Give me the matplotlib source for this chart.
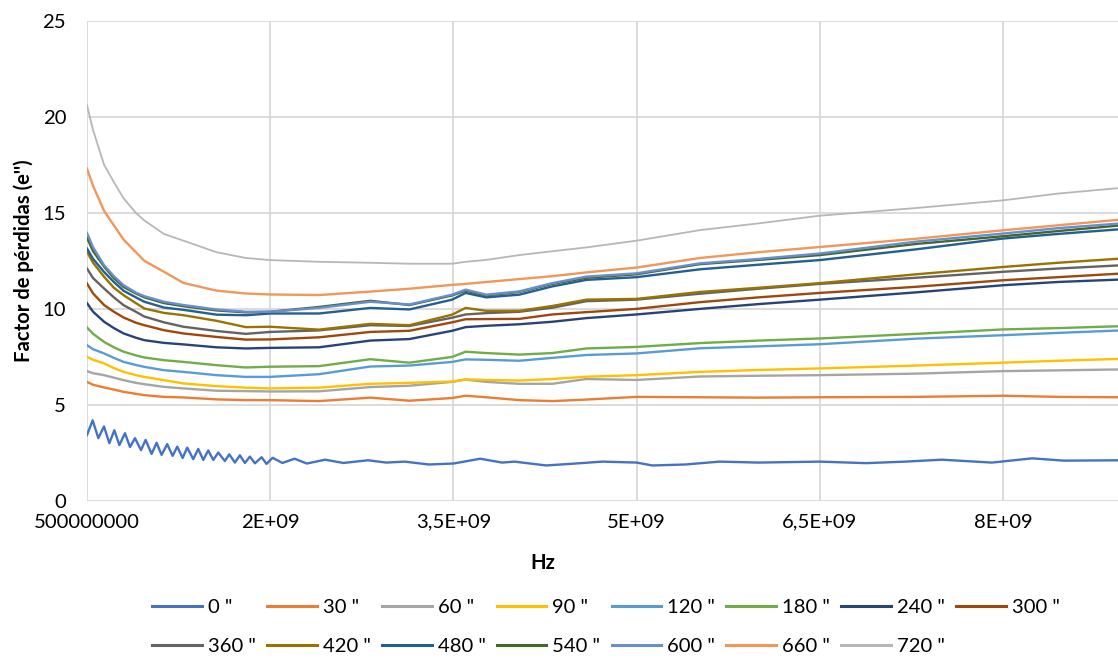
import matplotlib
matplotlib.use("Agg")
import matplotlib.pyplot as plt
from matplotlib.ticker import FixedLocator, FixedFormatter

plt.rcParams['font.family'] = ['Lato', 'DejaVu Sans']

# ---------------- data ----------------
freq_ghz = [0.5, 0.55, 0.64, 0.72, 0.8, 0.9, 0.97, 1.13, 1.29, 1.56, 1.8, 2.0, 2.4,
            2.82, 3.14, 3.49, 3.6, 3.77, 4.04, 4.31, 4.59, 5.0, 5.52, 6.0, 6.5,
            7.29, 8.0, 8.45, 8.97]

freq0_ghz = [0.5, 0.546, 0.593, 0.639, 0.683, 0.724, 0.765, 0.811, 0.852, 0.893,
             0.942, 0.98, 1.029, 1.07, 1.111, 1.157, 1.201, 1.239, 1.283, 1.321,
             1.37, 1.411, 1.452, 1.493, 1.534, 1.575, 1.629, 1.665, 1.711, 1.752,
             1.793, 1.834, 1.875, 1.93, 1.97, 2.02, 2.1, 2.2, 2.3, 2.45, 2.6, 2.8,
             2.95, 3.1, 3.3, 3.5, 3.72, 3.9, 4.0, 4.26, 4.5, 4.72, 5.0, 5.13, 5.4,
             5.68, 6.0, 6.5, 6.88, 7.2, 7.5, 7.91, 8.24, 8.5, 8.97]

s0 = [3.43, 4.2, 3.27, 3.88, 3.01, 3.68, 2.91, 3.53, 2.81, 3.27, 2.65, 3.18, 2.45,
      3.03, 2.4, 2.96, 2.35, 2.83, 2.24, 2.78, 2.18, 2.71, 2.14, 2.63, 2.14, 2.52,
      2.08, 2.43, 2.0, 2.38, 1.98, 2.31, 1.96, 2.28, 1.93, 2.25, 1.98, 2.2, 1.95,
      2.15, 1.98, 2.12, 2.0, 2.05, 1.9, 1.95, 2.2, 2.0, 2.05, 1.85, 1.95, 2.05,
      2.0, 1.85, 1.9, 2.05, 2.0, 2.05, 1.97, 2.05, 2.15, 2.0, 2.22, 2.1, 2.12]

s30 = [6.2, 6.05, 5.91, 5.8, 5.68, 5.58, 5.51, 5.42, 5.39, 5.29, 5.25, 5.25, 5.2,
       5.38, 5.22, 5.36, 5.48, 5.4, 5.25, 5.2, 5.28, 5.42, 5.4, 5.38, 5.4, 5.42,
       5.48, 5.42, 5.4]
s60 = [6.76, 6.65, 6.55, 6.42, 6.29, 6.15, 6.08, 5.94, 5.86, 5.74, 5.72, 5.7, 5.71,
       5.93, 6.0, 6.2, 6.32, 6.2, 6.1, 6.1, 6.35, 6.3, 6.48, 6.52, 6.55, 6.63,
       6.76, 6.8, 6.85]
s90 = [7.5, 7.35, 7.16, 6.92, 6.72, 6.55, 6.46, 6.29, 6.12, 5.98, 5.9, 5.86, 5.9,
       6.1, 6.15, 6.22, 6.33, 6.3, 6.27, 6.35, 6.47, 6.55, 6.72, 6.82, 6.9, 7.05,
       7.2, 7.3, 7.4]
s120 = [8.11, 7.9, 7.68, 7.45, 7.24, 7.08, 6.98, 6.81, 6.72, 6.55, 6.46, 6.46, 6.6,
        7.0, 7.05, 7.24, 7.37, 7.35, 7.3, 7.45, 7.6, 7.68, 7.95, 8.05, 8.16, 8.45,
        8.63, 8.75, 8.88]
s180 = [9.03, 8.7, 8.28, 8.0, 7.77, 7.58, 7.47, 7.33, 7.24, 7.07, 6.95, 6.99, 7.02,
        7.38, 7.2, 7.5, 7.77, 7.7, 7.62, 7.7, 7.94, 8.02, 8.22, 8.35, 8.46, 8.7,
        8.93, 9.0, 9.1]
s240 = [10.3, 9.85, 9.33, 9.0, 8.72, 8.5, 8.37, 8.23, 8.15, 8.0, 7.94, 7.97, 8.0,
        8.35, 8.43, 8.86, 9.05, 9.12, 9.2, 9.33, 9.52, 9.71, 10.0, 10.25, 10.48,
        10.86, 11.23, 11.4, 11.53]
s300 = [11.32, 10.8, 10.2, 9.85, 9.55, 9.28, 9.15, 8.89, 8.72, 8.54, 8.4, 8.41, 8.52,
        8.8, 8.86, 9.3, 9.46, 9.47, 9.48, 9.71, 9.83, 10.0, 10.35, 10.6, 10.83,
        11.15, 11.49, 11.65, 11.84]
s360 = [12.1, 11.6, 11.06, 10.6, 10.19, 9.85, 9.6, 9.3, 9.07, 8.85, 8.7, 8.8, 8.88,
        9.15, 9.11, 9.54, 9.71, 9.78, 9.85, 10.06, 10.4, 10.48, 10.79, 11.05, 11.3,
        11.62, 11.93, 12.1, 12.27]
s420 = [12.97, 12.4, 11.67, 11.1, 10.71, 10.3, 10.02, 9.79, 9.67, 9.38, 9.05, 9.07,
        8.92, 9.22, 9.15, 9.7, 10.05, 9.9, 9.9, 10.15, 10.48, 10.52, 10.88, 11.1,
        11.34, 11.8, 12.18, 12.4, 12.62]
s480 = [13.14, 12.6, 11.92, 11.4, 10.94, 10.6, 10.37, 10.07, 9.95, 9.7, 9.67, 9.76,
        9.76, 10.05, 9.97, 10.48, 10.83, 10.6, 10.74, 11.17, 11.51, 11.65, 12.06,
        12.3, 12.54, 13.1, 13.66, 13.9, 14.15]
s540 = [13.7, 13.0, 12.2, 11.6, 11.14, 10.8, 10.6, 10.3, 10.14, 9.92, 9.82, 9.85,
        10.1, 10.42, 10.2, 10.7, 10.95, 10.7, 10.88, 11.3, 11.62, 11.8, 12.33,
        12.55, 12.8, 13.38, 13.78, 14.05, 14.35]
s600 = [13.95, 13.2, 12.27, 11.7, 11.23, 10.85, 10.66, 10.37, 10.2, 9.97, 9.85, 9.85,
        10.05, 10.37, 10.23, 10.74, 11.0, 10.74, 10.91, 11.34, 11.68, 11.85, 12.37,
        12.6, 12.88, 13.5, 13.92, 14.2, 14.45]
s660 = [17.3, 16.4, 15.1, 14.35, 13.6, 12.95, 12.5, 11.93, 11.35, 10.95, 10.8, 10.75,
        10.72, 10.9, 11.05, 11.25, 11.3, 11.4, 11.55, 11.7, 11.9, 12.15, 12.65,
        12.95, 13.22, 13.65, 14.09, 14.35, 14.65]
s720 = [20.6, 19.3, 17.5, 16.6, 15.75, 15.0, 14.6, 13.9, 13.55, 12.95, 12.65, 12.54,
        12.45, 12.4, 12.35, 12.35, 12.45, 12.55, 12.8, 13.0, 13.2, 13.55, 14.1,
        14.45, 14.85, 15.25, 15.65, 16.0, 16.3]

series_labels = ['0 "', '30 "', '60 "', '90 "', '120 "', '180 "', '240 "', '300 "',
                 '360 "', '420 "', '480 "', '540 "', '600 "', '660 "', '720 "']

x_tick_values = [5e8, 2e9, 3.5e9, 5e9, 6.5e9, 8e9]
x_tick_labels = ['500000000', '2E+09', '3,5E+09', '5E+09', '6,5E+09', '8E+09']
y_tick_values = [0, 5, 10, 15, 20, 25]

colors = ['#4472C4', '#ED7D31', '#A5A5A5', '#FFC000', '#5B9BD5', '#70AD47',
          '#264478', '#9E480E', '#636363', '#997300', '#255E91', '#43682B',
          '#698ED0', '#F1975A', '#B7B7B7']

# ---------------- figure ----------------
W, H = 1118, 661
fig = plt.figure(figsize=(W / 100, H / 100), dpi=100)
ax_left, ax_right, ax_top, ax_bottom = 87, 1125, 20.7, 501
ax = fig.add_axes([ax_left / W, 1 - ax_bottom / H,
                   (ax_right - ax_left) / W, (ax_bottom - ax_top) / H])

freq_hz = [f * 1e9 for f in freq_ghz]
freq0_hz = [f * 1e9 for f in freq0_ghz]
all_series = [s0, s30, s60, s90, s120, s180, s240, s300, s360, s420, s480,
              s540, s600, s660, s720]

lines = []
for i, (vals, lab, col) in enumerate(zip(all_series, series_labels, colors)):
    xs = freq0_hz if i == 0 else freq_hz
    lw = 1.3 if i == 14 else 1.7
    ln, = ax.plot(xs, vals, color=col, lw=lw, label=lab, zorder=3 + i,
                  solid_joinstyle='round')
    lines.append(ln)

ax.set_xlim(5e8, 9e9)
ax.set_ylim(0, 25)
ax.xaxis.set_major_locator(FixedLocator(x_tick_values))
ax.xaxis.set_major_formatter(FixedFormatter(x_tick_labels))
ax.yaxis.set_major_locator(FixedLocator(y_tick_values))
ax.grid(True, color='#D9D9D9', lw=1.3, zorder=0)
for sp in ax.spines.values():
    sp.set_visible(False)
ax.tick_params(axis='both', length=0, labelsize=14.6, colors='#000000')
ax.tick_params(axis='y', pad=15)
ax.tick_params(axis='x', pad=9)

ax.set_xlabel('Hz', fontsize=14.6, fontweight='bold')
ax.set_ylabel("Factor de pérdidas (e'')", fontsize=14.6, fontweight='bold')
ax.xaxis.set_label_coords((543 - ax_left) / (ax_right - ax_left),
                          (ax_bottom - 563) / (ax_bottom - ax_top))
ax.xaxis.label.set_verticalalignment('center')
ax.yaxis.set_label_coords((24 - ax_left) / (ax_right - ax_left), 0.5)
ax.yaxis.label.set_verticalalignment('center')

# legend: row-major order in 8 columns
order = [0, 8, 1, 9, 2, 10, 3, 11, 4, 12, 5, 13, 6, 14, 7]
handles = [lines[i] for i in order]
labels = [series_labels[i] for i in order]
leg = fig.legend(handles, labels, ncol=8, loc='center',
                 bbox_to_anchor=(606 / W, 1 - 627 / H), frameon=False,
                 fontsize=14.6, handlelength=2.45, handletextpad=0.3,
                 columnspacing=0.55, labelspacing=1.05, borderaxespad=0)
for lh in leg.get_lines():
    lh.set_linewidth(2.2)

fig.savefig('out.png', dpi=100)
